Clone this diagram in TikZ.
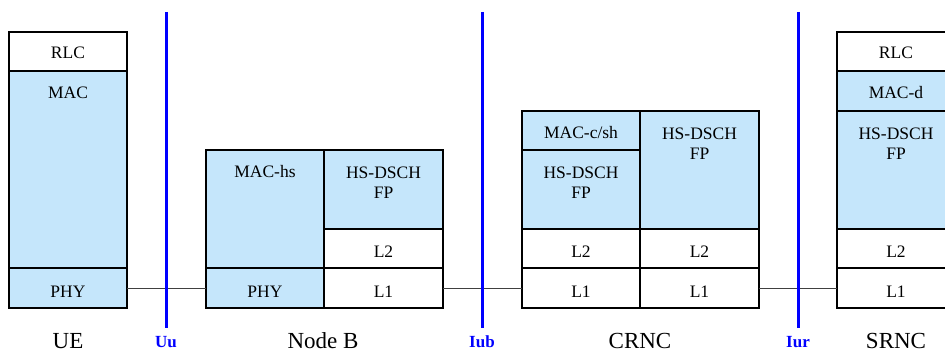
\documentclass[tikz,border=0pt]{standalone}
\usepackage{fontspec}
\setmainfont{Liberation Serif}
\definecolor{lb}{RGB}{197,230,251}
\definecolor{ifblue}{RGB}{0,0,255}
\begin{document}
\begin{tikzpicture}[x=1pt,y=-1pt,
  cell/.style={draw, line width=1.1pt, inner sep=0pt, outer sep=0pt, anchor=north west},
  fcell/.style={cell, fill=lb},
  txt/.style={font=\fontsize{17.5}{20}\selectfont, align=center, inner sep=0pt, anchor=base},
  txt2/.style={font=\fontsize{17.5}{20}\selectfont, align=center, inner sep=0pt, anchor=north},
  lbl/.style={font=\fontsize{23}{26}\selectfont, inner sep=0pt, anchor=base},
  iflbl/.style={font=\fontsize{17}{19}\selectfont\bfseries, text=ifblue, inner sep=0pt, anchor=base},
  ifline/.style={draw=ifblue, line width=3pt},
  link/.style={draw=black!75, line width=0.9pt},
  sep/.style={line width=2.2pt}]
\useasboundingbox (0,0) rectangle (945,350);
\clip (0,0) rectangle (945,350);
% UE
\node[cell, minimum width=118pt, minimum height=39pt] (uerlc) at (9,32) {};
\node[fcell, minimum width=118pt, minimum height=197pt] (uemac) at (9,71) {};
\node[fcell, minimum width=118pt, minimum height=40pt] (uephy) at (9,268) {};
\node[txt] (t-uerlc) at (68,59) {RLC};
\node[txt] (t-uemac) at (68,99) {MAC};
\node[txt] (t-uephy) at (68,297) {PHY};
% Node B
\node[fcell, minimum width=118pt, minimum height=118pt] (nbmac) at (206,150) {};
\node[fcell, minimum width=118pt, minimum height=40pt] (nbphy) at (206,268) {};
\node[fcell, minimum width=119pt, minimum height=79pt] (nbfp) at (324,150) {};
\node[cell, minimum width=119pt, minimum height=39pt] (nbl2) at (324,229) {};
\node[cell, minimum width=119pt, minimum height=40pt] (nbl1) at (324,268) {};
\node[txt] (t-nbmac) at (265,178) {MAC-hs};
\node[txt] (t-nbphy) at (265,297) {PHY};
\node[txt2] (t-nbfp) at (383.5,166.5) {HS-DSCH\\FP};
\node[txt] (t-nbl2) at (383.5,257) {L2};
\node[txt] (t-nbl1) at (383.5,297) {L1};
% CRNC
\node[fcell, minimum width=118pt, minimum height=39pt] (crmac) at (522,111) {};
\node[fcell, minimum width=118pt, minimum height=79pt] (crfpa) at (522,150) {};
\node[cell, minimum width=118pt, minimum height=39pt] (crl2a) at (522,229) {};
\node[cell, minimum width=118pt, minimum height=40pt] (crl1a) at (522,268) {};
\node[fcell, minimum width=119pt, minimum height=118pt] (crfpb) at (640,111) {};
\node[cell, minimum width=119pt, minimum height=39pt] (crl2b) at (640,229) {};
\node[cell, minimum width=119pt, minimum height=40pt] (crl1b) at (640,268) {};
\node[txt] (t-crmac) at (581,139) {MAC-c/sh};
\node[txt2] (t-crfpa) at (581,166.5) {HS-DSCH\\FP};
\node[txt] (t-crl2a) at (581,257) {L2};
\node[txt] (t-crl1a) at (581,297) {L1};
\node[txt2] (t-crfpb) at (699.5,127.5) {HS-DSCH\\FP};
\node[txt] (t-crl2b) at (699.5,257) {L2};
\node[txt] (t-crl1b) at (699.5,297) {L1};
% SRNC
\node[cell, minimum width=118pt, minimum height=39pt] (srrlc) at (837,32) {};
\node[fcell, minimum width=118pt, minimum height=40pt] (srmac) at (837,71) {};
\node[fcell, minimum width=118pt, minimum height=118pt] (srfp) at (837,111) {};
\node[cell, minimum width=118pt, minimum height=39pt] (srl2) at (837,229) {};
\node[cell, minimum width=118pt, minimum height=40pt] (srl1) at (837,268) {};
\node[txt] (t-srrlc) at (896,59) {RLC};
\node[txt] (t-srmac) at (896,99) {MAC-d};
\node[txt2] (t-srfp) at (896,127.5) {HS-DSCH\\FP};
\node[txt] (t-srl2) at (896,257) {L2};
\node[txt] (t-srl1) at (896,297) {L1};
% thick L2/L1 separators
\draw[sep] (nbl1.north west) -- (nbl1.north east);
\draw[sep] (crl1a.north west) -- (crl1a.north east);
\draw[sep] (crl1b.north west) -- (crl1b.north east);
\draw[sep] (srl1.north west) -- (srl1.north east);
% links
\draw[link] (uephy.east) -- (nbphy.west);
\draw[link] (nbl1.east) -- (crl1a.west);
\draw[link] (crl1b.east) -- (srl1.west);
% interfaces
\coordinate (uu-top) at (166,12); \coordinate (uu-bot) at (166,328);
\coordinate (iub-top) at (482,12); \coordinate (iub-bot) at (482,328);
\coordinate (iur-top) at (798,12); \coordinate (iur-bot) at (798,328);
\draw[ifline] (uu-top) -- (uu-bot);
\draw[ifline] (iub-top) -- (iub-bot);
\draw[ifline] (iur-top) -- (iur-bot);
\node[iflbl] (l-uu) at (166,347) {Uu};
\node[iflbl] (l-iub) at (482,347) {Iub};
\node[iflbl] (l-iur) at (798,347) {Iur};
% entity labels
\node[lbl] (l-ue) at (68,348) {UE};
\node[lbl] (l-nb) at (323,348) {Node B};
\node[lbl] (l-cr) at (640,348) {CRNC};
\node[lbl] (l-sr) at (896,348) {SRNC};
\end{tikzpicture}
\end{document}
